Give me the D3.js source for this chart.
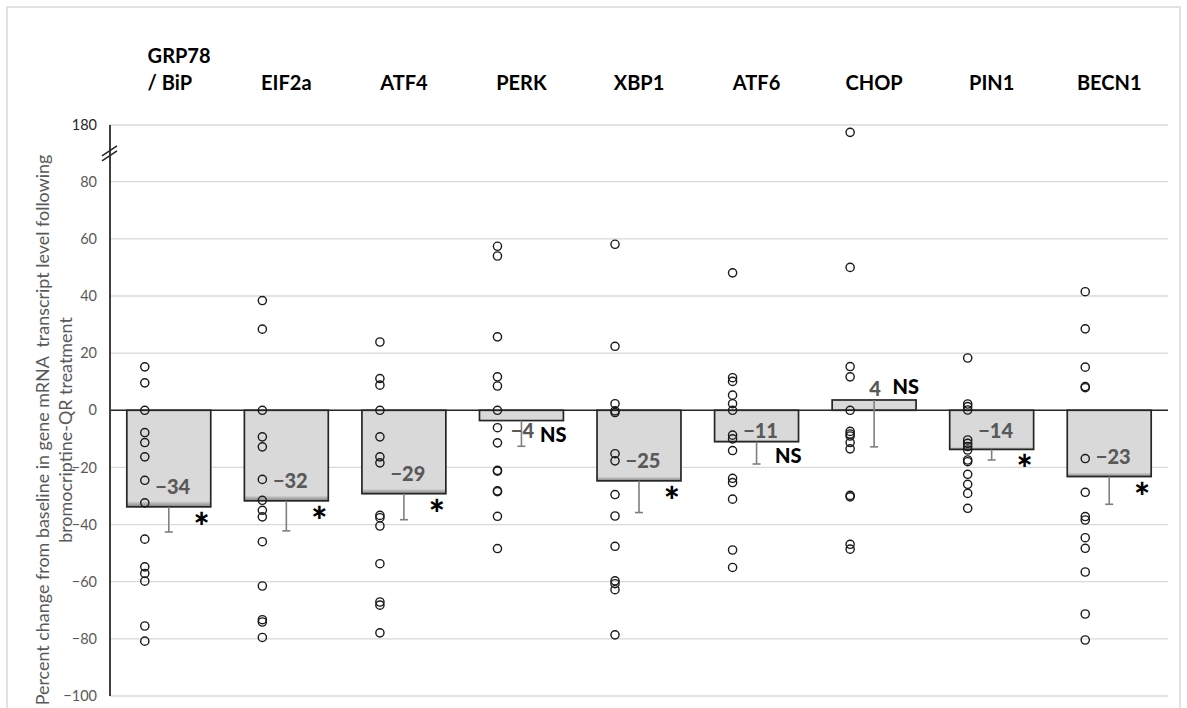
<!DOCTYPE html>
<html><head><meta charset="utf-8">
<script src="https://cdn.jsdelivr.net/npm/d3@7"></script>
<style>body{margin:0;background:#fff}svg{display:block}</style>
</head><body><div id="chart"></div>
<script>
// ---- data ----
const categories = ["GRP78 / BiP","EIF2a","ATF4","PERK","XBP1","ATF6","CHOP","PIN1","BECN1"];
const categoryLabels = [["GRP78","/ BiP"],["EIF2a"],["ATF4"],["PERK"],["XBP1"],["ATF6"],["CHOP"],["PIN1"],["BECN1"]];
const meanChange = [-33.8,-31.7,-29.2,-3.6,-24.7,-11.0,3.6,-13.7,-23.2];
const stdError   = [8.8,10.5,9.1,9.0,11.1,7.8,16.4,3.7,9.7];
const significance = ["*","*","*","NS","*","NS","NS","*","*"];
const grp78 = [15.2,9.6,0,-7.8,-11.3,-16.3,-24.5,-32.4,-45.1,-54.8,-57.1,-59.8,-75.5,-80.8];
const eif2a = [38.4,28.4,0,-9.3,-12.8,-24.2,-31.5,-35.0,-37.3,-46.0,-61.5,-73.3,-74.1,-79.5];
const atf4  = [23.9,11.1,8.8,0,-9.3,-16.3,-18.4,-36.8,-37.6,-40.5,-53.7,-67.1,-68.2,-77.9];
const perk  = [57.4,54.0,25.7,11.7,8.5,0,-6.1,-11.4,-21.0,-21.3,-28.2,-28.5,-37.1,-48.4];
const xbp1  = [58.1,22.4,2.3,-0.2,-0.8,-15.2,-17.7,-29.5,-37.0,-47.6,-59.7,-60.7,-62.8,-78.6];
const atf6  = [48.1,11.4,10.1,5.3,2.3,0,-8.7,-10.0,-14.1,-23.8,-25.3,-31.1,-48.9,-55.0];
const chop  = [167,50,15.3,11.7,0,-7.4,-8.3,-9.0,-11.3,-13.5,-29.8,-30.3,-46.9,-48.6];
const pin1  = [18.3,2.2,1.3,0.1,-10.4,-11.6,-12.7,-13.9,-17.4,-18.0,-22.4,-25.9,-29.1,-34.3];
const becn1 = [41.5,28.5,15.1,7.9,8.3,-16.9,-28.7,-37.2,-38.4,-44.6,-48.3,-56.6,-71.3,-80.4];
const individualPoints = [grp78,eif2a,atf4,perk,xbp1,atf6,chop,pin1,becn1];
const yTicks = [-100,-80,-60,-40,-20,0,20,40,60,80,180];
const axisBreakValue = 130;
const yTitleLines = ["Percent change from baseline in gene mRNA\u00a0 transcript level following","bromocriptine-QR treatment"];

// ---- layout ----
const W = 1187, H = 708;
const mLeft = 110, mRight = 1168, mTop = 125, mBottom = 696;
const FONT = "Lato, 'Open Sans', sans-serif";

const svg = d3.select("#chart").append("svg").attr("width", W).attr("height", H);

const x = d3.scaleBand().domain(categories).range([mLeft, mRight]).paddingInner(0.286).paddingOuter(0.143);
// broken axis: -100..80 linear, then 80..180 compressed to one 20-unit step
const y = d3.scaleLinear().domain([-100, 80, 180]).range([mBottom, 181.7, mTop]);
const step = x.step();
const cx = c => x(c) + x.bandwidth() / 2;

// chart border
svg.append("rect").attr("x", 7).attr("y", 7).attr("width", 1173).attr("height", 720)
  .attr("fill", "none").attr("stroke", "#d9d9d9").attr("stroke-width", 1.5);

// gridlines
svg.append("g").selectAll("line").data(yTicks).join("line")
  .attr("x1", mLeft).attr("x2", mRight)
  .attr("y1", d => y(d)).attr("y2", d => y(d))
  .attr("stroke", "#d9d9d9").attr("stroke-width", 1.3);

// y axis labels
const yAxis = d3.axisLeft(y).tickValues(yTicks).tickSize(0).tickPadding(13).tickFormat(d3.format("d"));
const gy = svg.append("g").attr("transform", `translate(${mLeft},0)`).call(yAxis);
gy.select(".domain").remove();
gy.selectAll("text").attr("font-family", FONT).attr("font-size", 14.5)
  .attr("fill", d => d === 180 ? "#262626" : "#595959");

// gradient for bars
const defs = svg.append("defs");
const gradDown = defs.append("linearGradient").attr("id", "barGradDown").attr("x1", 0).attr("y1", 0).attr("x2", 0).attr("y2", 1);
gradDown.append("stop").attr("offset", "0%").attr("stop-color", "#d9d9d9");
gradDown.append("stop").attr("offset", "94%").attr("stop-color", "#d9d9d9");
gradDown.append("stop").attr("offset", "100%").attr("stop-color", "#808080");

// bars
const barData = categories.map((c, i) => ({c, v: meanChange[i], e: stdError[i], s: significance[i], pts: individualPoints[i], lab: categoryLabels[i]}));
svg.append("g").selectAll("rect").data(barData).join("rect")
  .attr("x", d => x(d.c)).attr("width", x.bandwidth())
  .attr("y", d => Math.min(y(d.v), y(0))).attr("height", d => Math.abs(y(d.v) - y(0)))
  .attr("fill", d => d.v < 0 ? "url(#barGradDown)" : "#d9d9d9")
  .attr("stroke", "#262626").attr("stroke-width", 1.7);

// zero line
svg.append("line").attr("x1", mLeft).attr("x2", mRight).attr("y1", y(0)).attr("y2", y(0))
  .attr("stroke", "#262626").attr("stroke-width", 1.6);

// y axis line
svg.append("line").attr("x1", mLeft).attr("x2", mLeft).attr("y1", mTop).attr("y2", mBottom)
  .attr("stroke", "#404040").attr("stroke-width", 2);
// axis break marks
const yb = y(axisBreakValue);
[-2.5, 2.5].forEach(o => {
  svg.append("line").attr("x1", mLeft - 8).attr("y1", yb + o + 5).attr("x2", mLeft + 7).attr("y2", yb + o - 5)
    .attr("stroke", "#262626").attr("stroke-width", 1.5);
});

// error bars (lower only)
const eb = svg.append("g").attr("stroke", "#7f7f7f").attr("stroke-width", 1.6);
barData.forEach(d => {
  const xc = cx(d.c);
  eb.append("line").attr("x1", xc).attr("x2", xc).attr("y1", y(d.v)).attr("y2", y(d.v - d.e));
  eb.append("line").attr("x1", xc - 4).attr("x2", xc + 4).attr("y1", y(d.v - d.e)).attr("y2", y(d.v - d.e));
});

// individual points
const pg = svg.append("g");
barData.forEach(d => {
  pg.append("g").selectAll("circle").data(d.pts).join("circle")
    .attr("cx", cx(d.c) - 0.204 * step).attr("cy", v => y(v)).attr("r", 4.1)
    .attr("fill", "none").attr("stroke", "#1a1a1a").attr("stroke-width", 1.4);
});

// value labels
svg.append("g").selectAll("text").data(barData).join("text")
  .attr("x", d => cx(d.c) + (Math.abs(d.v) < 5 ? 1 : 4))
  .attr("y", d => d.v < 0 ? Math.max(y(d.v) - 13, y(0) + 28) : y(d.v) - 4)
  .attr("text-anchor", "middle").attr("font-family", FONT).attr("font-weight", "900")
  .attr("font-size", 20).attr("fill", "#595959")
  .text(d => (d.v < 0 ? "\u2212" : "") + Math.abs(Math.round(d.v)));

// significance markers
barData.forEach(d => {
  const t = svg.append("text").attr("font-family", FONT).attr("font-weight", "900").attr("fill", "#000").attr("text-anchor", "middle");
  if (d.s === "*") {
    t.attr("x", cx(d.c) + 0.28 * step).attr("y", y(d.v) + 14 + 20).attr("font-size", 38).text("*");
  } else {
    t.attr("x", cx(d.c) + 0.27 * step).attr("y", d.v < 0 ? y(d.v) + 21 : y(d.v) - 6).attr("font-size", 20).text(d.s);
  }
});

// category labels (top)
barData.forEach(d => {
  const n = d.lab.length;
  const t = svg.append("text").attr("font-family", FONT).attr("font-weight", "bold").attr("font-size", 20)
    .attr("fill", "#000").attr("text-anchor", n > 1 ? "start" : "middle");
  d.lab.forEach((line, k) => {
    t.append("tspan").attr("x", n > 1 ? cx(d.c) - 0.18 * step : cx(d.c)).attr("y", 90 - (n - 1 - k) * 27).text(line);
  });
});

// y axis title
const titleCenterY = 430;
const tg = svg.append("g").attr("font-family", FONT).attr("fill", "#595959");
const t1 = tg.append("text").attr("text-anchor", "middle").attr("font-size", 18)
  .attr("transform", `translate(49,${titleCenterY}) rotate(-90)`).text(yTitleLines[0]);
const len = t1.node().getComputedTextLength();
const fs = 18 * 551 / len;
t1.attr("font-size", fs);
tg.append("text").attr("text-anchor", "middle").attr("font-size", fs)
  .attr("transform", `translate(72,${titleCenterY}) rotate(-90)`).text(yTitleLines[1]);
</script>
</body></html>
